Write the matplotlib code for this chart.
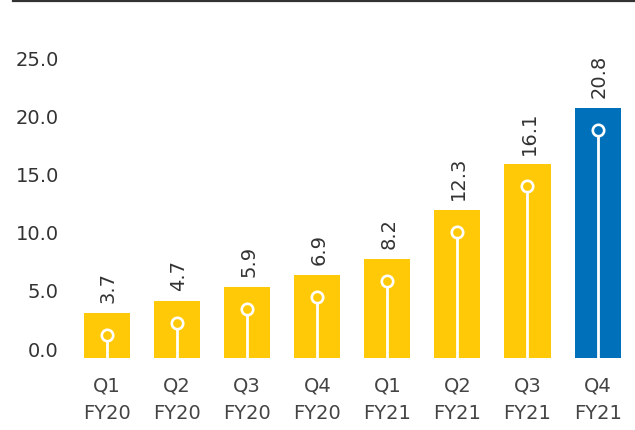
import matplotlib.pyplot as plt
from matplotlib.lines import Line2D

quarters = ['Q1\nFY20', 'Q2\nFY20', 'Q3\nFY20', 'Q4\nFY20',
            'Q1\nFY21', 'Q2\nFY21', 'Q3\nFY21', 'Q4\nFY21']
values = [3.7, 4.7, 5.9, 6.9, 8.2, 12.3, 16.1, 20.8]
yticks = [0, 5, 10, 15, 20, 25]

YELLOW = '#FFC907'
BLUE = '#0070BA'
TEXT = '#333333'

W, H = 635, 430
fig = plt.figure(figsize=(W / 100, H / 100), dpi=100)

# axes box in pixels (from top-left)
left, right = 72, 632.6
top, bottom = 58.8, 357.5
ax = fig.add_axes([left / W, 1 - bottom / H, (right - left) / W, (bottom - top) / H])

# tick scale: 0.0 sits a little above the bar bottoms
ax.set_ylim(-(bottom - 349) / 11.61, 25)
ax.set_xlim(-0.5, 7.5)
ax.set_yticks(yticks)
ax.set_yticklabels([f'{t:.1f}' for t in yticks], fontsize=14, color=TEXT)
ax.set_xticks(range(len(quarters)))
ax.set_xticklabels(quarters, fontsize=14, color='#444444', linespacing=1.6)
ax.tick_params(length=0)
ax.tick_params(axis='y', pad=9.5)
ax.tick_params(axis='x', pad=13.5)
for s in ax.spines.values():
    s.set_visible(False)

# bars on their own scale
ax2 = ax.twinx()
ax2.set_ylim(0, (bottom - top) / 12.0)
ax2.set_yticks([])
for s in ax2.spines.values():
    s.set_visible(False)

colors = [YELLOW] * (len(values) - 1) + [BLUE]
x = list(range(len(values)))
ax2.bar(x, values, width=0.657, color=colors, zorder=2)

offset = 22 / 12.0
for i, v in enumerate(values):
    ax2.plot([i, i], [0, v - offset], color='white', lw=2.0, zorder=3,
             solid_capstyle='butt')
    ax2.plot(i, v - offset, 'o', ms=8.2, mfc=colors[i], mec='white', mew=1.9, zorder=4)
    ax2.annotate(f'{v:.1f}', (i, v), xytext=(1, 7), textcoords='offset points',
                 rotation=90, ha='center', va='bottom', fontsize=14, color=TEXT)

fig.add_artist(Line2D([13 / W, 1], [1 - 0.8 / H, 1 - 0.8 / H], color='#333333', lw=1.6))

fig.savefig('out.png', dpi=100)
